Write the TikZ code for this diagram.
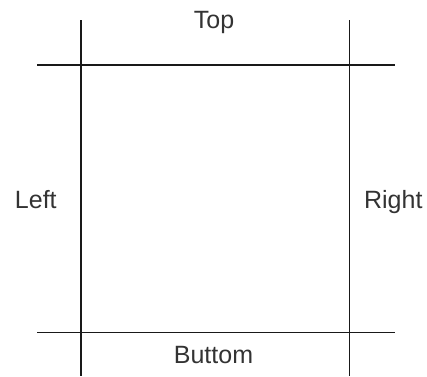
\documentclass[tikz,border=0pt]{standalone}
\usepackage{fontspec}
\setmainfont{Liberation Sans}
\begin{document}
\begin{tikzpicture}[x=1pt,y=-1pt,
  edge/.style={line width=1.4pt, black!90},
  lbl/.style={font=\fontsize{25}{30}\selectfont, text=black!80, anchor=base, inner sep=0pt}]
\useasboundingbox (0,0) rectangle (427,376);
\coordinate (vl1) at (81,20);
\coordinate (vl2) at (81,376);
\coordinate (vr1) at (349.5,20);
\coordinate (vr2) at (349.5,376);
\coordinate (ht1) at (37,65);
\coordinate (ht2) at (394.5,65);
\coordinate (hb1) at (37,332.5);
\coordinate (hb2) at (394.5,332.5);
\draw[edge] (vl1) -- (vl2);
\draw[edge] (vr1) -- (vr2);
\draw[edge] (ht1) -- (ht2);
\draw[edge] (hb1) -- (hb2);
\node[lbl] (top) at (214,28.3) {Top};
\node[lbl] (bottom) at (213.5,363.3) {Buttom};
\node[lbl] (left) at (35.8,208.3) {Left};
\node[lbl] (right) at (393.3,208.3) {Right};
\end{tikzpicture}
\end{document}
